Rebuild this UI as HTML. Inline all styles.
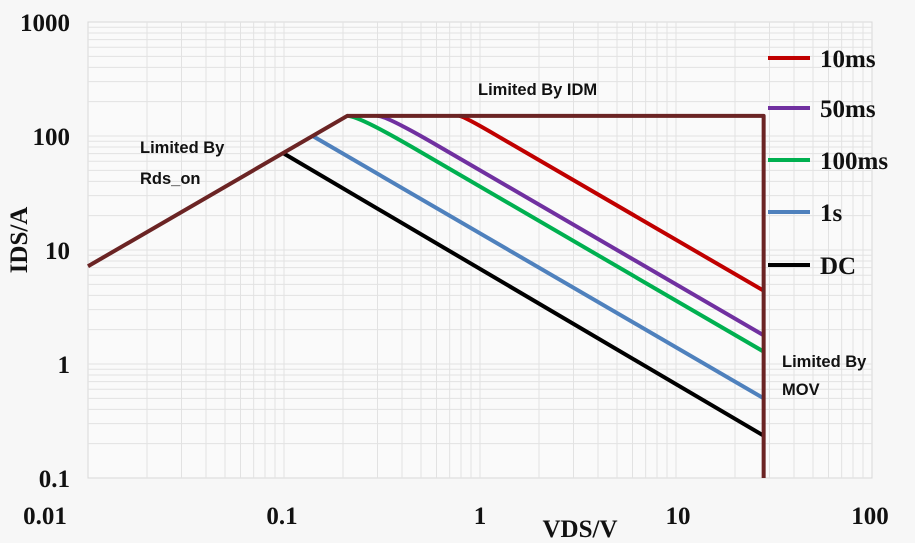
<!DOCTYPE html>
<html><head><meta charset="utf-8"><style>
body{margin:0;background:#f7f7f7;}
svg{display:block}
.t{font-family:"Liberation Serif",serif;font-weight:bold;font-size:25px;fill:#111}
.a{font-family:"Liberation Sans",sans-serif;font-weight:bold;font-size:16.5px;fill:#111}
</style></head><body>
<svg id="s" width="915" height="543" xmlns="http://www.w3.org/2000/svg">
<rect x="0" y="0" width="915" height="543" fill="#f7f7f7"/>
<rect x="88" y="22" width="784" height="456" fill="#fafafa" stroke="#d8d8d8"/>
<g id="grid" stroke="#e2e2e2" stroke-width="1"></g>
<g id="curves" fill="none" stroke-width="4" stroke-linejoin="round"></g>
<text class="t" x="70" y="31" text-anchor="end">1000</text>
<text class="t" x="70" y="145" text-anchor="end">100</text>
<text class="t" x="70" y="259" text-anchor="end">10</text>
<text class="t" x="70" y="373" text-anchor="end">1</text>
<text class="t" x="70" y="487" text-anchor="end">0.1</text>
<text class="t" x="45" y="524" text-anchor="middle">0.01</text>
<text class="t" x="282" y="524" text-anchor="middle">0.1</text>
<text class="t" x="480" y="524" text-anchor="middle">1</text>
<text class="t" x="678" y="524" text-anchor="middle">10</text>
<text class="t" x="870" y="524" text-anchor="middle">100</text>
<text class="t" x="580" y="537" text-anchor="middle">VDS/V</text>
<text class="t" transform="translate(27,240) rotate(-90)" text-anchor="middle">IDS/A</text>
<text class="a" x="140" y="153">Limited By</text>
<text class="a" x="140" y="184">Rds_on</text>
<text class="a" x="478" y="95">Limited By IDM</text>
<text class="a" x="782" y="367">Limited By</text>
<text class="a" x="782" y="395">MOV</text>
<g stroke-width="4">
<line x1="768" y1="58" x2="810" y2="58" stroke="#c00000"/>
<line x1="768" y1="108" x2="810" y2="108" stroke="#7030a0"/>
<line x1="768" y1="160" x2="810" y2="160" stroke="#00b050"/>
<line x1="768" y1="212" x2="810" y2="212" stroke="#4f81bd"/>
<line x1="768" y1="265" x2="810" y2="265" stroke="#000"/>
</g>
<text class="t" x="820" y="67">10ms</text>
<text class="t" x="820" y="117">50ms</text>
<text class="t" x="820" y="169">100ms</text>
<text class="t" x="820" y="221">1s</text>
<text class="t" x="820" y="274">DC</text>
</svg>
<script>
var NS="http://www.w3.org/2000/svg";
function X(v){return 88+(Math.log10(v)+2)*196;}
function Y(v){return 478-(Math.log10(v)+1)*114;}
var g=document.getElementById("grid");
function ln(x1,y1,x2,y2){var l=document.createElementNS(NS,"line");l.setAttribute("x1",x1);l.setAttribute("y1",y1);l.setAttribute("x2",x2);l.setAttribute("y2",y2);g.appendChild(l);}
for(var d=-2;d<2;d++)for(var k=1;k<10;k++){var x=X(k*Math.pow(10,d));if(x>88)ln(x,22,x,478);}
for(var d=-1;d<3;d++)for(var k=1;k<10;k++){var y=Y(k*Math.pow(10,d));if(y<478)ln(88,y,872,y);}
var c=document.getElementById("curves");
function path(d,col){var p=document.createElementNS(NS,"path");p.setAttribute("d",d);p.setAttribute("stroke",col);c.appendChild(p);}
function f(v){return v.toFixed(1);}
function curve(K,x0,x2,col){var xc=K/150;
var d="M"+f(X(x0))+","+f(Y(150))+"Q"+f(X(xc))+","+f(Y(150))+" "+f(X(x2))+","+f(Y(K/x2))+"L"+f(X(28))+","+f(Y(K/28));path(d,col);}
curve(123,0.78,1.2,"#c00000");
curve(50,0.3,0.6,"#7030a0");
curve(36,0.21,0.45,"#00b050");
path("M"+X(0.14)+","+Y(100)+"L"+X(28)+","+Y(0.5),"#4f81bd");
path("M"+X(0.1)+","+Y(70)+"L"+X(28)+","+Y(0.235),"#000");
path("M"+X(0.01)+","+Y(7.2)+"L"+X(0.21)+","+Y(150)+"L"+X(28)+","+Y(150)+"L"+X(28)+",478","#6b2424");
</script>
</body></html>
